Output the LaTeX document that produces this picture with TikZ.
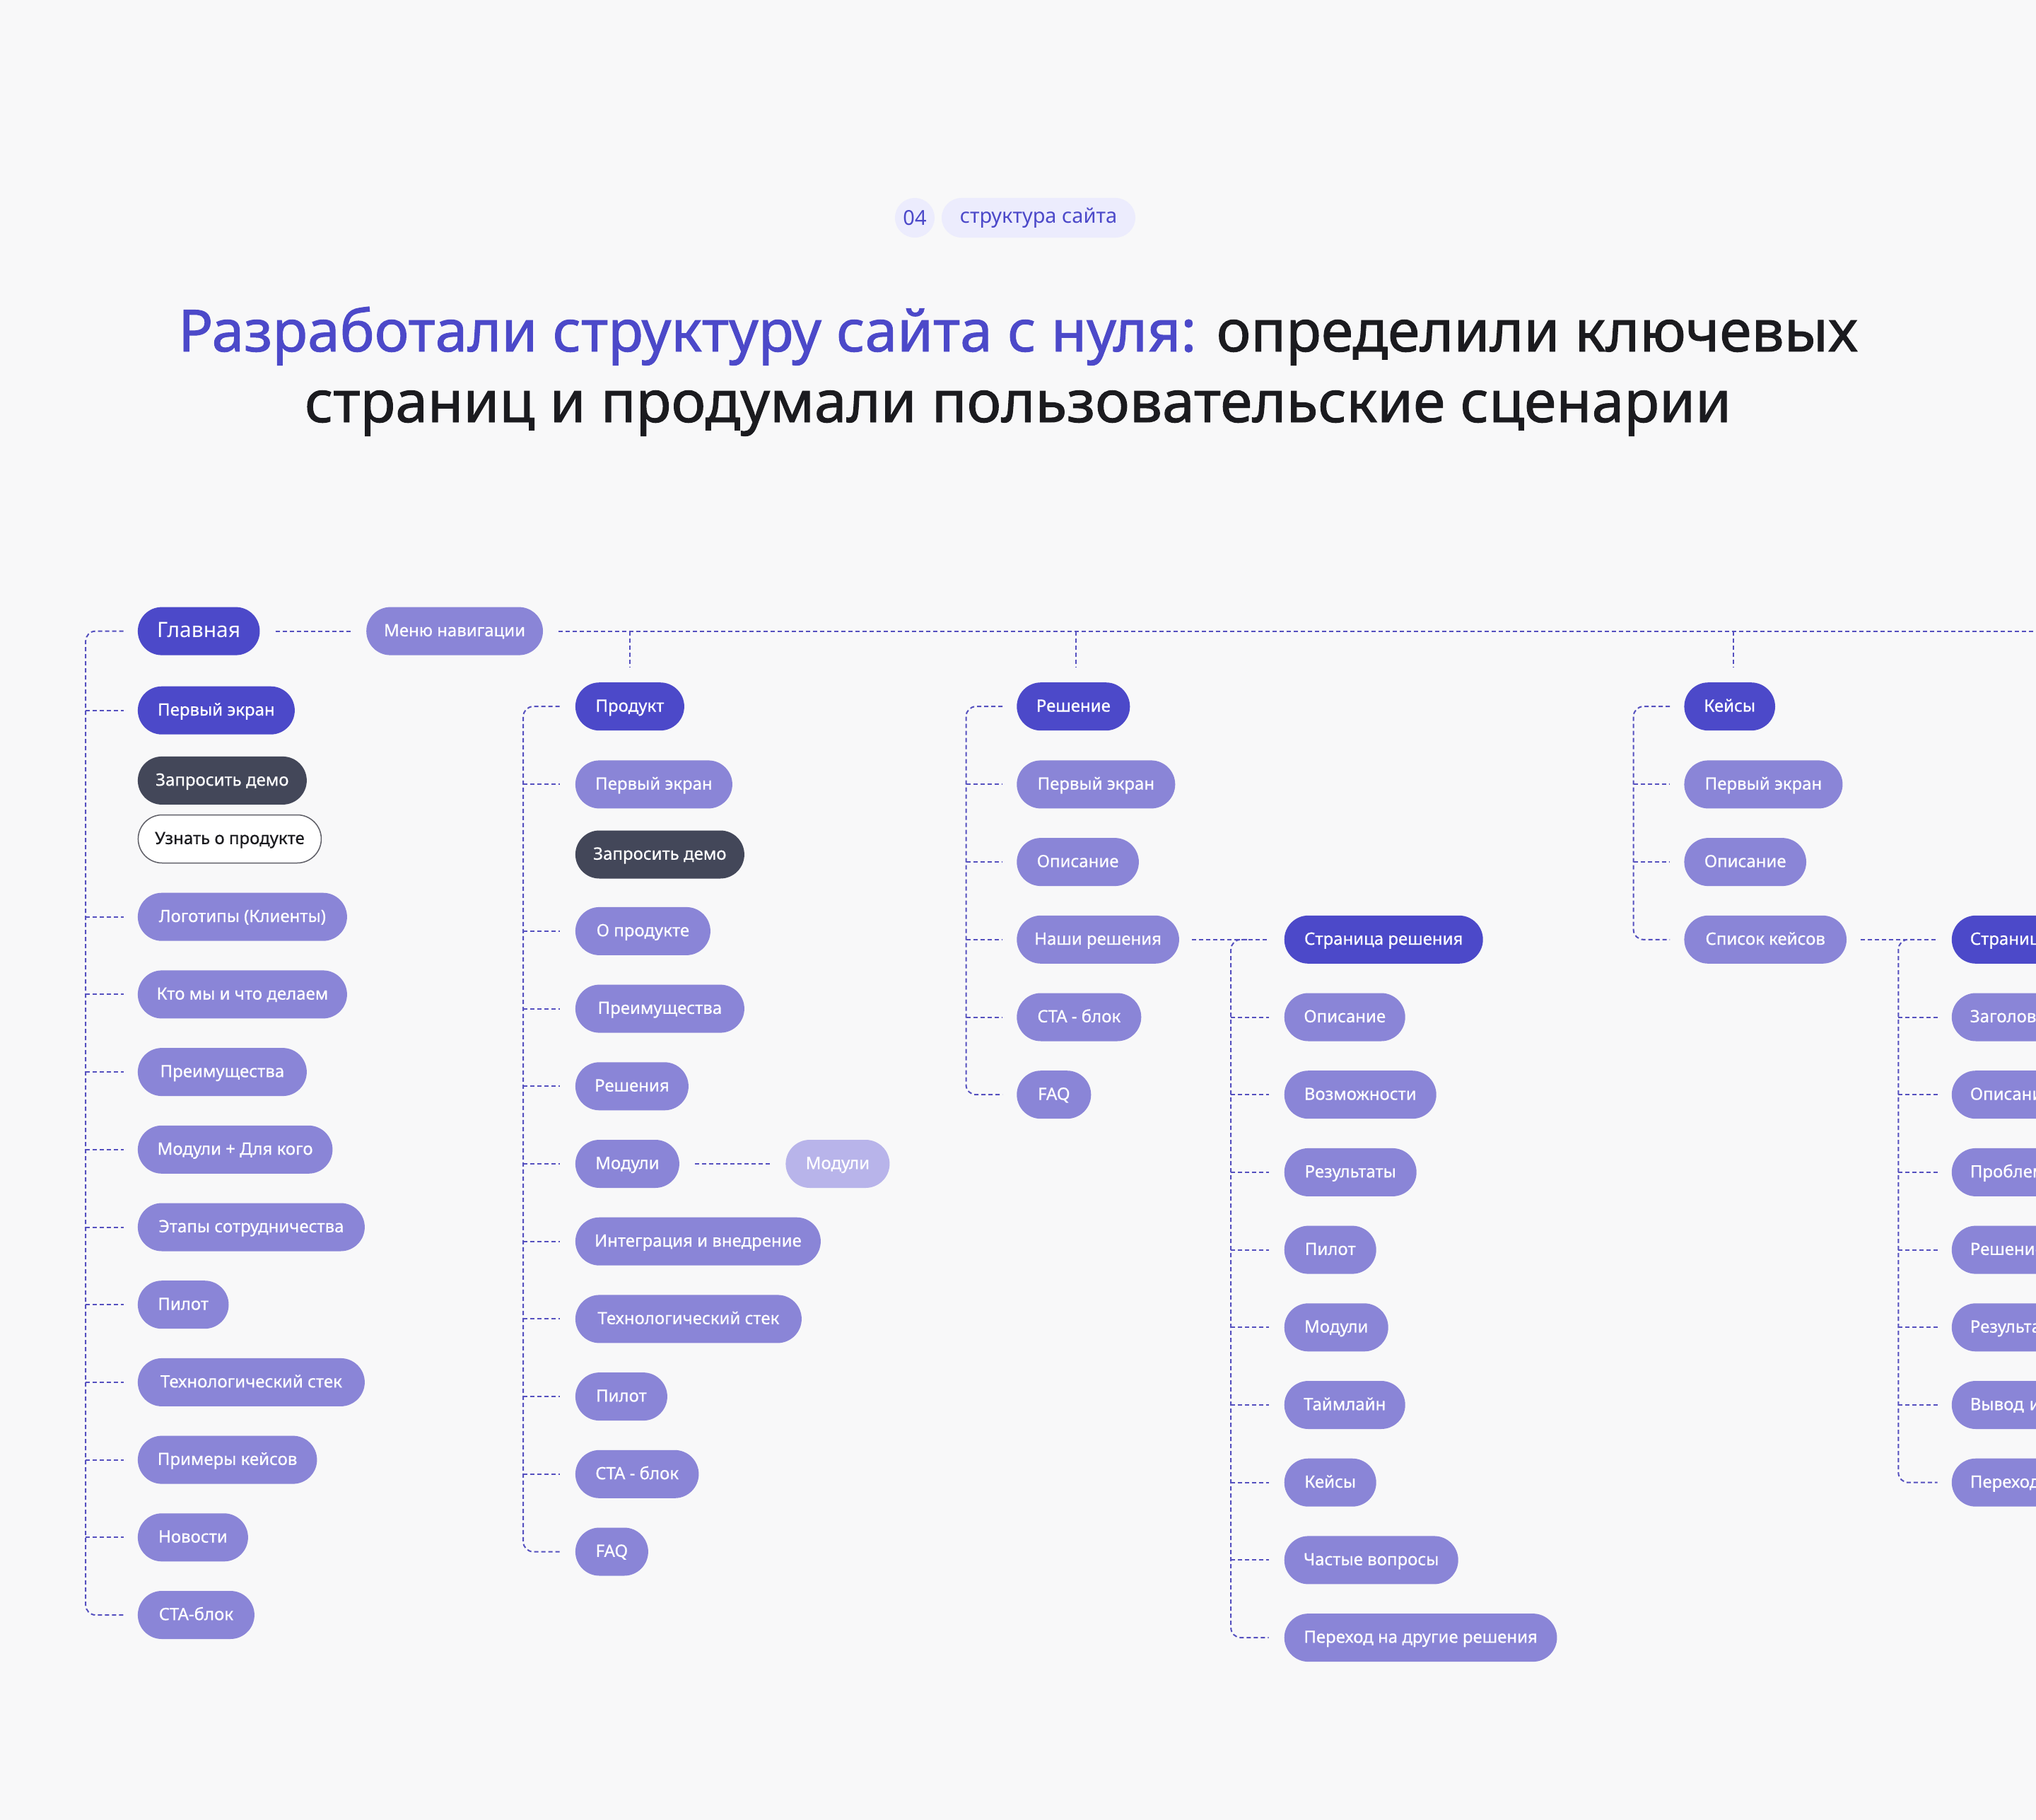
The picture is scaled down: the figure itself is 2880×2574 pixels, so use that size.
\documentclass[tikz,border=0pt]{standalone}
\usepackage{fontspec}
\setmainfont{Noto Sans}
\newfontfamily\nodefont{Noto Sans}[FakeBold=0.6]
\newfontfamily\headfont{Noto Sans}[FakeBold=1.2]
\newfontfamily\plainfont{Noto Sans}
\definecolor{cBg}{HTML}{F8F8F9}
\definecolor{cDark}{HTML}{4C49C9}
\definecolor{cMid}{HTML}{8A85D7}
\definecolor{cLight}{HTML}{B8B4EA}
\definecolor{cSlate}{HTML}{434759}
\definecolor{cLine}{HTML}{5550BF}
\definecolor{cTag}{HTML}{ECECFD}
\definecolor{cText}{HTML}{1B1B1F}
\definecolor{cGrey}{HTML}{5E5E66}
\tikzset{
  pill/.style={rounded corners=34pt, minimum height=68pt, anchor=west, inner sep=0pt,
    text height=14.6pt, text depth=0pt, font={\nodefont\fontsize{24pt}{28pt}\selectfont}, text=white},
  pdark/.style={pill, fill=cDark},
  pmid/.style={pill, fill=cMid},
  plight/.style={pill, fill=cLight},
  pslate/.style={pill, fill=cSlate},
  poutline/.style={pill, draw=cGrey, line width=1.5pt, fill=white, text=cText},
  conn/.style={draw=cLine, line width=2pt, dash pattern=on 6pt off 4pt},
  corner/.style={conn, rounded corners=14pt},
}
\begin{document}
\begin{tikzpicture}[x=1pt, y=-1pt]
\useasboundingbox (0,0) rectangle (2880,2574);
\clip (0,0) rectangle (2880,2574);
\fill[cBg] (0,0) rectangle (2880,2574);

% tag
\node[circle, fill=cTag, minimum size=56pt, inner sep=0pt, text=cDark, text height=20.6pt, text depth=0pt,
  font={\plainfont\fontsize{29pt}{34pt}\selectfont}] (num) at (1294,308) {04};
\node[fill=cTag, rounded corners=28pt, minimum height=56pt, minimum width=274pt, inner sep=0pt, text=cDark,
  text height=16pt, text depth=0pt, font={\plainfont\fontsize{29pt}{34pt}\selectfont}] (tag) at (1469,308) {структура сайта};

% heading
\node[anchor=base, inner sep=0pt, text=cText, font={\headfont\fontsize{82pt}{98pt}\selectfont}] (h1) at (1440,497)
  {\textcolor{cDark}{Разработали структуру сайта с нуля:} определили ключевых};
\node[anchor=base, inner sep=0pt, text=cText, font={\headfont\fontsize{82pt}{98pt}\selectfont}] (h2) at (1440,597)
  {страниц и продумали пользовательские сценарии};

% ---------- Главная column
\node[pdark, minimum width=172.6pt, text height=18.6pt, font={\plainfont\fontsize{30pt}{34pt}\selectfont}] (glav) at (194.7,892.6) {Главная};
\node[pmid, minimum width=249.8pt] (menu) at (518,892.6) {Меню навигации};
\node[pdark, minimum width=222pt] (g1) at (194.7,1004.7) {Первый экран};
\node[pslate, minimum width=239pt] (g2) at (194.7,1103.9) {Запросить демо};
\node[poutline, minimum width=259pt] (g3) at (194.7,1186.5) {Узнать о продукте};
\node[pmid, minimum width=296pt] (g4) at (194.7,1296.7) {Логотипы (Клиенты)};
\node[pmid, minimum width=296pt] (g5) at (194.7,1406.4) {Кто мы и что делаем};
\node[pmid, minimum width=239pt] (g6) at (194.7,1516.1) {Преимущества};
\node[pmid, minimum width=275.5pt] (g7) at (194.7,1625.8) {Модули + Для кого};
\node[pmid, minimum width=321pt] (g8) at (194.7,1735.5) {Этапы сотрудничества};
\node[pmid, minimum width=128.6pt] (g9) at (194.7,1845.2) {Пилот};
\node[pmid, minimum width=321pt] (g10) at (194.7,1954.9) {Технологический стек};
\node[pmid, minimum width=253.5pt] (g11) at (194.7,2064.6) {Примеры кейсов};
\node[pmid, minimum width=156pt] (g12) at (194.7,2174.3) {Новости};
\node[pmid, minimum width=165pt] (g13) at (194.7,2284) {CTA-блок};

% ---------- Продукт column
\node[pdark, minimum width=154pt] (p0) at (813.7,999.2) {Продукт};
\node[pmid, minimum width=222pt] (p1) at (813.7,1109.4) {Первый экран};
\node[pslate, minimum width=239pt] (p2) at (813.7,1208.5) {Запросить демо};
\node[pmid, minimum width=191pt] (p3) at (813.7,1316.9) {О продукте};
\node[pmid, minimum width=239pt] (p4) at (813.7,1426.6) {Преимущества};
\node[pmid, minimum width=160pt] (p5) at (813.7,1536.3) {Решения};
\node[pmid, minimum width=147pt] (p6) at (813.7,1646) {Модули};
\node[plight, minimum width=147pt] (p6b) at (1111.2,1646) {Модули};
\node[pmid, minimum width=347pt] (p7) at (813.7,1755.7) {Интеграция и внедрение};
\node[pmid, minimum width=320pt] (p8) at (813.7,1865.4) {Технологический стек};
\node[pmid, minimum width=130pt] (p9) at (813.7,1975.1) {Пилот};
\node[pmid, minimum width=174.5pt] (p10) at (813.7,2084.8) {CTA - блок};
\node[pmid, minimum width=103pt] (p11) at (813.7,2194.5) {FAQ};

% ---------- Решение column
\node[pdark, minimum width=160pt] (s0) at (1438.1,999.2) {Решение};
\node[pmid, minimum width=224pt] (s1) at (1438.1,1109.4) {Первый экран};
\node[pmid, minimum width=172.6pt] (s2) at (1438.1,1219.1) {Описание};
\node[pmid, minimum width=229.6pt] (s3) at (1438.1,1328.8) {Наши решения};
\node[pmid, minimum width=176pt] (s4) at (1438.1,1438.5) {CTA - блок};
\node[pmid, minimum width=105pt] (s5) at (1438.1,1548.2) {FAQ};

\node[pdark, minimum width=281pt] (t0) at (1816.5,1328.8) {Страница решения};
\node[pmid, minimum width=171pt] (t1) at (1816.5,1438.5) {Описание};
\node[pmid, minimum width=215pt] (t2) at (1816.5,1548.2) {Возможности};
\node[pmid, minimum width=187pt] (t3) at (1816.5,1657.9) {Результаты};
\node[pmid, minimum width=130pt] (t4) at (1816.5,1767.6) {Пилот};
\node[pmid, minimum width=147pt] (t5) at (1816.5,1877.3) {Модули};
\node[pmid, minimum width=171pt] (t6) at (1816.5,1987) {Таймлайн};
\node[pmid, minimum width=130pt] (t7) at (1816.5,2096.7) {Кейсы};
\node[pmid, minimum width=246pt] (t8) at (1816.5,2206.4) {Частые вопросы};
\node[pmid, minimum width=385.7pt] (t9) at (1816.5,2316.1) {Переход на другие решения};

% ---------- Кейсы column
\node[pdark, minimum width=128.6pt] (k0) at (2382.2,999.2) {Кейсы};
\node[pmid, minimum width=224pt] (k1) at (2382.2,1109.4) {Первый экран};
\node[pmid, minimum width=172.6pt] (k2) at (2382.2,1219.1) {Описание};
\node[pmid, minimum width=229.6pt] (k3) at (2382.2,1328.8) {Список кейсов};

\tikzset{cutpill/.style={text width=300pt, align=left, inner xsep=26pt}}
\node[pdark, cutpill] (c0) at (2760.6,1328.8) {Страница кейса};
\node[pmid, cutpill] (c1) at (2760.6,1438.5) {Заголовок};
\node[pmid, cutpill] (c2) at (2760.6,1548.2) {Описание};
\node[pmid, cutpill] (c3) at (2760.6,1657.9) {Проблема};
\node[pmid, cutpill] (c4) at (2760.6,1767.6) {Решение};
\node[pmid, cutpill] (c5) at (2760.6,1877.3) {Результаты};
\node[pmid, cutpill] (c6) at (2760.6,1987) {Вывод и отзыв};
\node[pmid, cutpill] (c7) at (2760.6,2096.7) {Переход к кейсам};

% ---------- trunk coordinates
\coordinate (gtr) at (121.2,0);
\coordinate (ptr) at (740.2,0);
\coordinate (str) at (1366.5,0);
\coordinate (ttr) at (1741.2,0);
\coordinate (ktr) at (2310.6,0);
\coordinate (ctr) at (2685.3,0);
\coordinate (edge) at (2880,892.6);
\coordinate (tstart) at (1764,1328.8);
\coordinate (cstart) at (2708,1328.8);

% top connectors
\draw[conn] ([xshift=22pt]glav.east) -- ([xshift=-22pt]menu.west);
\draw[conn] ([xshift=22pt]menu.east) -- (edge);
\draw[conn] (p0.north |- menu.east) -- ([yshift=21pt]p0.north);
\draw[conn] ([xshift=4pt]s0.north |- menu.east) -- ([xshift=4pt,yshift=21pt]s0.north);
\draw[conn] ([xshift=5pt]k0.north |- menu.east) -- ([xshift=5pt,yshift=21pt]k0.north);

% Главная tree
\draw[corner] ([xshift=-20pt]glav.west) -| (g13.west -| gtr) -- ([xshift=-20pt]g13.west);
\foreach \n in {g1,g4,g5,g6,g7,g8,g9,g10,g11,g12}
  \draw[conn] (\n.west -| gtr) -- ([xshift=-20pt]\n.west);

% Продукт tree
\draw[corner] ([xshift=-22pt]p0.west) -| (p11.west -| ptr) -- ([xshift=-22pt]p11.west);
\foreach \n in {p1,p3,p4,p5,p6,p7,p8,p9,p10}
  \draw[conn] (\n.west -| ptr) -- ([xshift=-22pt]\n.west);
\draw[conn] ([xshift=22pt]p6.east) -- ([xshift=-22pt]p6b.west);

% Решение tree
\draw[corner] ([xshift=-20pt]s0.west) -| (s5.west -| str) -- ([xshift=-20pt]s5.west);
\foreach \n in {s1,s2,s3,s4}
  \draw[conn] (\n.west -| str) -- ([xshift=-20pt]\n.west);
\draw[conn] ([xshift=18pt]s3.east) -- ([xshift=-22pt]t0.west);
\draw[corner] (tstart) -| (t9.west -| ttr) -- ([xshift=-22pt]t9.west);
\foreach \n in {t1,t2,t3,t4,t5,t6,t7,t8}
  \draw[conn] (\n.west -| ttr) -- ([xshift=-22pt]\n.west);

% Кейсы tree
\draw[corner] ([xshift=-20pt]k0.west) -| (k3.west -| ktr) -- ([xshift=-20pt]k3.west);
\foreach \n in {k1,k2}
  \draw[conn] (\n.west -| ktr) -- ([xshift=-20pt]\n.west);
\draw[conn] ([xshift=20pt]k3.east) -- ([xshift=-20pt]c0.west);
\draw[corner] (cstart) -| (c7.west -| ctr) -- ([xshift=-20pt]c7.west);
\foreach \n in {c1,c2,c3,c4,c5,c6}
  \draw[conn] (\n.west -| ctr) -- ([xshift=-20pt]\n.west);
\end{tikzpicture}
\end{document}
